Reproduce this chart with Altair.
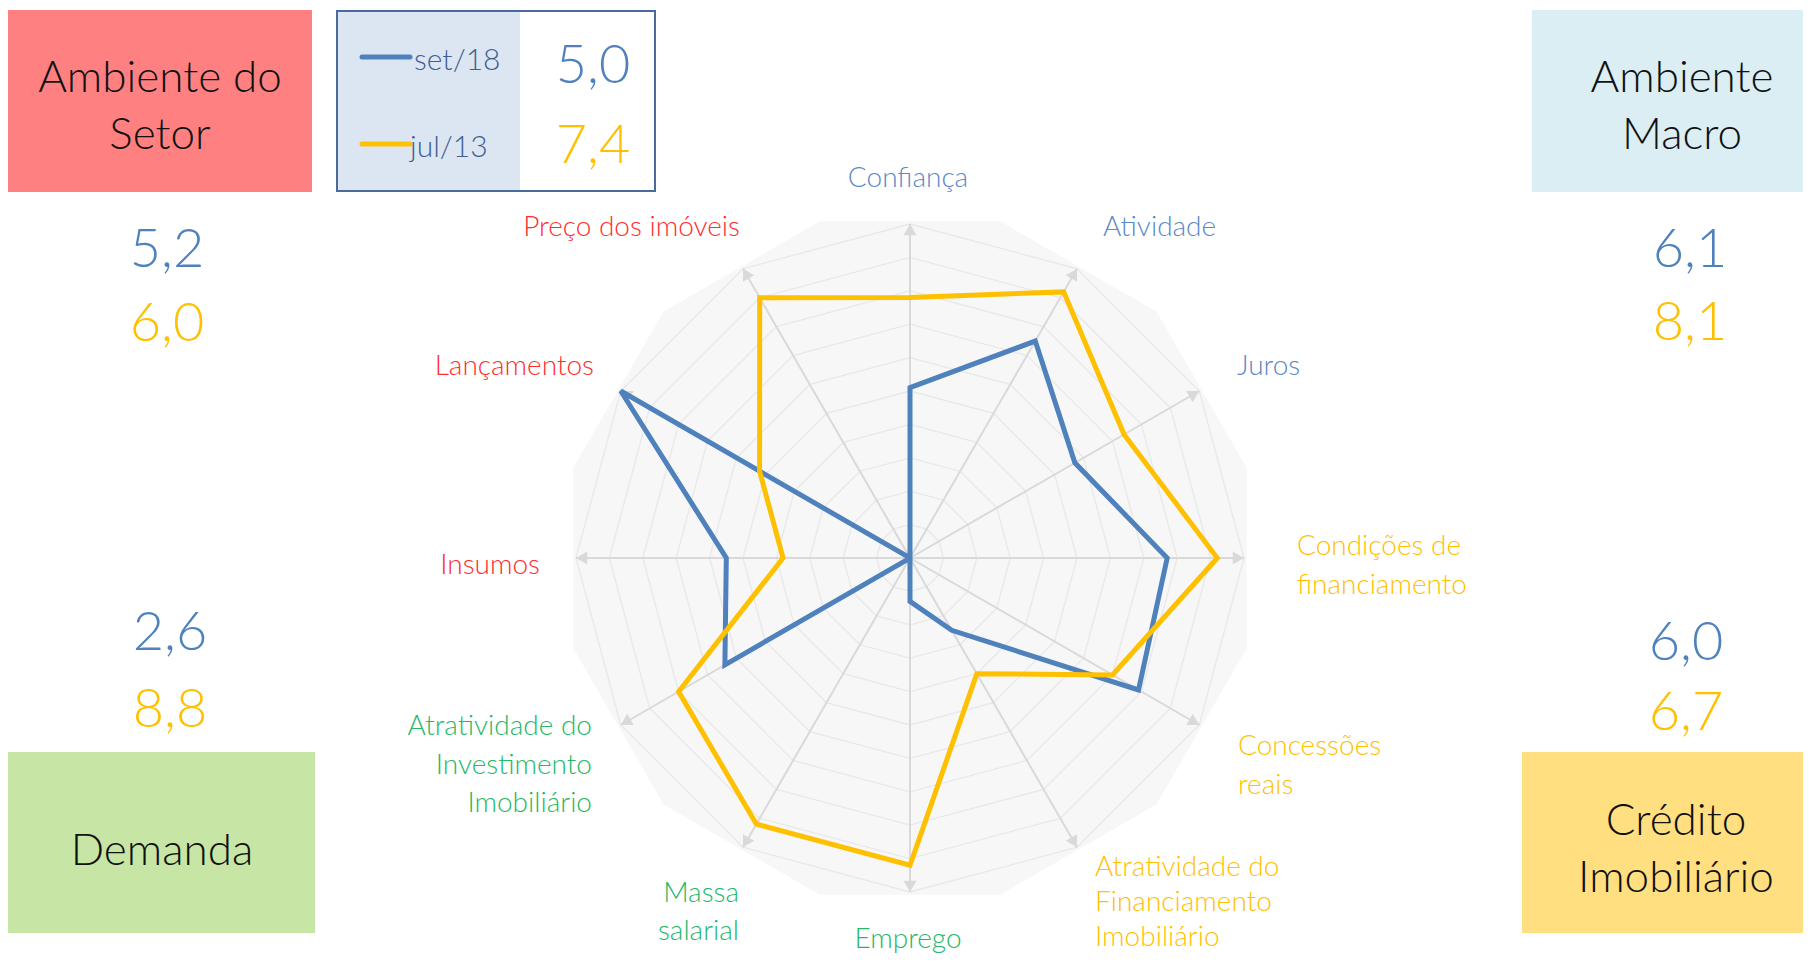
import math
import altair as alt
import pandas as pd

# ---------------- data ----------------
INDICATORS = [
    "Confiança", "Atividade", "Juros",
    "Condições de financiamento", "Concessões reais",
    "Atratividade do Financiamento Imobiliário",
    "Emprego", "Massa salarial", "Atratividade do Investimento Imobiliário",
    "Insumos", "Lançamentos", "Preço dos imóveis",
]
INDICATOR_GROUP = [
    "Ambiente Macro", "Ambiente Macro", "Ambiente Macro",
    "Crédito Imobiliário", "Crédito Imobiliário", "Crédito Imobiliário",
    "Demanda", "Demanda", "Demanda",
    "Ambiente do Setor", "Ambiente do Setor", "Ambiente do Setor",
]
SERIES = ["set/18", "jul/13"]
SET18 = [5.1, 7.5, 5.7, 7.7, 7.9, 2.5, 1.3, 0.0, 6.4, 5.5, 10.0, 0.0]
JUL13 = [7.8, 9.2, 7.4, 9.2, 7.0, 4.0, 9.2, 9.2, 8.0, 3.8, 5.2, 9.0]
TOTAL = ["5,0", "7,4"]
GROUPS = ["Ambiente do Setor", "Ambiente Macro", "Demanda", "Crédito Imobiliário"]
GROUP_SET18 = ["5,2", "6,1", "2,6", "6,0"]
GROUP_JUL13 = ["6,0", "8,1", "8,8", "6,7"]
GRID_LEVELS = [1, 2, 3, 4, 5, 6, 7, 8, 9, 10]
AXIS_MAX = 10

# ---------------- styles / layout ----------------
FONT = "Lato"
BLUE = "#4F81BD"
YELLOW = "#FFC000"
GROUP_COLOR = {
    "Ambiente Macro": "#5B88C6",
    "Crédito Imobiliário": "#FFC000",
    "Demanda": "#25B866",
    "Ambiente do Setor": "#FF2D2D",
}
BOX_FILL = {
    "Ambiente do Setor": "#FF8080",
    "Ambiente Macro": "#DAEEF3",
    "Demanda": "#C7E6A6",
    "Crédito Imobiliário": "#FFDF80",
}
W, H = 1795, 948
CX, CY = 910, 558          # radar centre (page px)
U = 33.4                   # px per unit

def P(v):
    return v - 8

xs = alt.Scale(domain=[-(P(CX)) / U, (W - P(CX)) / U], nice=False, zero=False)
ys = alt.Scale(domain=[-(H - P(CY)) / U, P(CY) / U], nice=False, zero=False)

ONE = pd.DataFrame({"k": [0]})


def rect(x0, y0, x1, y1, fill, stroke=None, sw=0):
    kw = dict(fill=fill)
    if stroke:
        kw.update(stroke=stroke, strokeWidth=sw)
    else:
        kw.update(strokeWidth=0)
    return alt.Chart(ONE).mark_rect(**kw).encode(
        x=alt.value(P(x0)), x2=alt.value(P(x1)),
        y=alt.value(P(y0)), y2=alt.value(P(y1)))


def txt(s, x, y, size, color, align="center", weight=300, lh=None):
    kw = dict(fontSize=size, color=color, align=align, baseline="alphabetic",
              font=FONT, fontWeight=weight, lineBreak="\n")
    if lh:
        kw["lineHeight"] = lh
    return alt.Chart(pd.DataFrame({"t": [s]})).mark_text(**kw).encode(
        x=alt.value(P(x)), y=alt.value(P(y)), text="t:N")


# ---------------- radar data ----------------
rows = []
for i, ind in enumerate(INDICATORS):
    for s, vals in zip(SERIES, [SET18, JUL13]):
        rows.append(dict(series=s, idx=i, angle=i * 30, value=vals[i]))
radar = pd.DataFrame(rows)

axes_df = pd.DataFrame({"idx": list(range(len(INDICATORS))),
                        "angle": [i * 30 for i in range(len(INDICATORS))]})
grid_rows = []
for lv in GRID_LEVELS:
    for i in range(len(INDICATORS)):
        grid_rows.append(dict(level=lv, idx=i, angle=i * 30))
grid_df = pd.DataFrame(grid_rows)

X = lambda f: alt.X(f, scale=xs, axis=None)
Y = lambda f: alt.Y(f, scale=ys, axis=None)

# background (12-gon, flat sides)
bg_angles = pd.DataFrame({"angle": [285, 315, 345, 15, 45, 75]})
BG_R = 10.08 / math.cos(math.radians(15))
background = alt.Chart(bg_angles).transform_calculate(
    bx=f"{BG_R}*sin(datum.angle*PI/180)",
    by=f"{BG_R}*cos(datum.angle*PI/180)",
    by2=f"-{BG_R}*cos(datum.angle*PI/180)",
).mark_area(color="#F7F7F7", orient="vertical", opacity=1).encode(
    x=X("bx:Q"), y=Y("by:Q"), y2="by2:Q")

grid = alt.Chart(grid_df).transform_calculate(
    gx="datum.level*sin(datum.angle*PI/180)",
    gy="datum.level*cos(datum.angle*PI/180)",
).mark_line(interpolate="linear-closed", color="#E8E8E8", strokeWidth=1.3).encode(
    x=X("gx:Q"), y=Y("gy:Q"), detail="level:N", order="idx:Q")

axes = alt.Chart(axes_df).transform_calculate(
    x0="0", y0="0",
    x1=f"{AXIS_MAX}*sin(datum.angle*PI/180)",
    y1=f"{AXIS_MAX}*cos(datum.angle*PI/180)",
).mark_rule(color="#D9D9D9", strokeWidth=2).encode(
    x=X("x0:Q"), y=Y("y0:Q"), x2="x1:Q", y2="y1:Q")

ARROW_R = AXIS_MAX - 5.6 / U
arrows = alt.Chart(axes_df).transform_calculate(
    ax=f"{ARROW_R}*sin(datum.angle*PI/180)",
    ay=f"{ARROW_R}*cos(datum.angle*PI/180)",
).mark_point(shape="triangle-up", filled=True, size=169, color="#D9D9D9", opacity=1).encode(
    x=X("ax:Q"), y=Y("ay:Q"), angle=alt.Angle("angle:Q", scale=None))


def series_line(name, color):
    return alt.Chart(radar).transform_filter(alt.datum.series == name).transform_calculate(
        px="datum.value*sin(datum.angle*PI/180)",
        py="datum.value*cos(datum.angle*PI/180)",
    ).mark_line(interpolate="linear-closed", color=color, strokeWidth=5,
                strokeJoin="miter").encode(
        x=X("px:Q"), y=Y("py:Q"), order="idx:Q")


lines = [series_line(SERIES[0], BLUE), series_line(SERIES[1], YELLOW)]

# ---------------- labels ----------------
LABEL_TEXT = {
    "Condições de financiamento": "Condições de\nfinanciamento",
    "Concessões reais": "Concessões\nreais",
    "Atratividade do Financiamento Imobiliário": "Atratividade do\nFinanciamento\nImobiliário",
    "Massa salarial": "Massa\nsalarial",
    "Atratividade do Investimento Imobiliário": "Atratividade do\nInvestimento\nImobiliário",
}
LABEL_LAYOUT = {  # page x, first-line baseline y, align, line height
    "Confiança": (908, 187, "center", 38.5),
    "Atividade": (1103, 236, "left", 38.5),
    "Juros": (1237, 375, "left", 38.5),
    "Condições de financiamento": (1297, 555, "left", 38.5),
    "Concessões reais": (1238, 755, "left", 38.5),
    "Atratividade do Financiamento Imobiliário": (1095, 876, "left", 35),
    "Emprego": (908, 948, "center", 38.5),
    "Massa salarial": (739, 902, "right", 38),
    "Atratividade do Investimento Imobiliário": (592, 735, "right", 38.5),
    "Insumos": (540, 574, "right", 38.5),
    "Lançamentos": (594, 375, "right", 38.5),
    "Preço dos imóveis": (740, 236, "right", 38.5),
}
labels = []
for ind, grp in zip(INDICATORS, INDICATOR_GROUP):
    x, y, a, lh = LABEL_LAYOUT[ind]
    labels.append(txt(LABEL_TEXT.get(ind, ind), x, y, 28, GROUP_COLOR[grp], align=a, lh=lh))

# ---------------- group boxes ----------------
BOX_LAYOUT = {  # box rect, title center x, first baseline y
    "Ambiente do Setor": ((8, 10, 312, 192), 160, 92, "Ambiente do\nSetor"),
    "Ambiente Macro": ((1532, 10, 1811, 192), 1682, 92, "Ambiente\nMacro"),
    "Demanda": ((8, 752, 315, 933), 162, 865, "Demanda"),
    "Crédito Imobiliário": ((1522, 752, 1811, 933), 1676, 835, "Crédito\nImobiliário"),
}
NUM_LAYOUT = {  # center x, baseline set/18, baseline jul/13
    "Ambiente do Setor": (167, 267, 341),
    "Ambiente Macro": (1690, 267, 340),
    "Demanda": (170, 650, 727),
    "Crédito Imobiliário": (1686, 660, 730),
}
boxes = []
for g, v18, v13 in zip(GROUPS, GROUP_SET18, GROUP_JUL13):
    (x0, y0, x1, y1), tx, ty, title = BOX_LAYOUT[g]
    boxes.append(rect(x0, y0, x1, y1, BOX_FILL[g]))
    boxes.append(txt(title, tx, ty, 44, "#111111", lh=56.5))
    nx, b1, b2 = NUM_LAYOUT[g]
    boxes.append(txt(v18, nx, b1, 54, BLUE))
    boxes.append(txt(v13, nx, b2, 54, YELLOW))

# ---------------- legend ----------------
legend = [
    rect(337, 11, 655, 191, "#FFFFFF", stroke="#4A6A9A", sw=2),
    rect(338, 12, 520, 190, "#DCE6F2"),
    alt.Chart(ONE).mark_rule(color=BLUE, strokeWidth=5, strokeCap="round").encode(
        x=alt.value(P(362)), x2=alt.value(P(410)), y=alt.value(P(57))),
    alt.Chart(ONE).mark_rule(color=YELLOW, strokeWidth=5, strokeCap="round").encode(
        x=alt.value(P(362)), x2=alt.value(P(410)), y=alt.value(P(144))),
    txt(SERIES[0], 414, 70, 30, "#3F5F92", align="left"),
    txt(SERIES[1], 410, 157, 30, "#3F5F92", align="left"),
    txt(TOTAL[0], 593, 83, 54, BLUE),
    txt(TOTAL[1], 593, 163, 54, YELLOW),
]

chart = alt.layer(
    background, grid, axes, arrows, *lines, *labels, *boxes, *legend
).properties(
    width=W, height=H, padding=0,
    autosize=alt.AutoSizeParams(type="none"),
).configure_view(stroke=None)

chart.save("out.html", embed_options={"renderer": "svg", "actions": False})
